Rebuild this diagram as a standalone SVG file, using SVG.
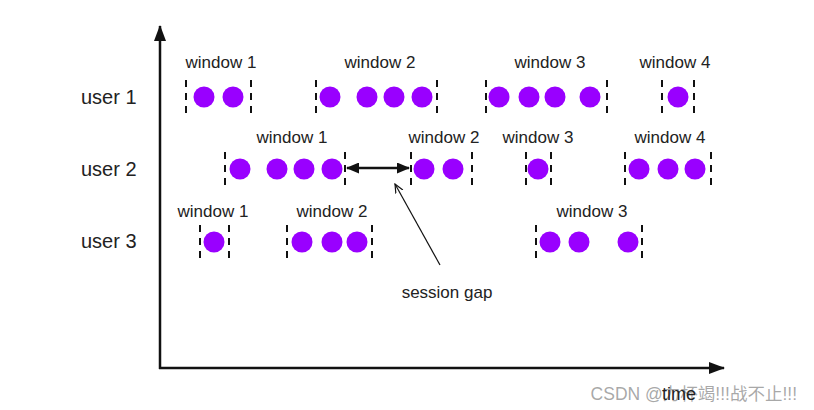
<svg xmlns="http://www.w3.org/2000/svg" width="814" height="410" viewBox="0 0 814 410">
<style>
.t{font-family:"Liberation Sans",Arial,sans-serif;fill:#222;}
.w{font-size:17px;text-anchor:middle;}
.u{font-size:20px;}
.d{stroke:#111;stroke-width:2;stroke-dasharray:7 6;}
.c{fill:#9900ff;}
.ax{stroke:#111;stroke-width:2.5;fill:none;}
</style>
<defs>
<marker id="ah" markerWidth="13" markerHeight="11" refX="12" refY="5.5" orient="auto-start-reverse" markerUnits="userSpaceOnUse" viewBox="0 0 13 11">
<path d="M0,0 L13,5.5 L0,11 Z" fill="#111"/>
</marker>
<marker id="ab" markerWidth="16" markerHeight="12" refX="15" refY="6" orient="auto-start-reverse" markerUnits="userSpaceOnUse" viewBox="0 0 16 12">
<path d="M0,0 L16,6 L0,12 Z" fill="#111"/>
</marker>
<marker id="ap" markerWidth="10" markerHeight="10" refX="9" refY="5" orient="auto" markerUnits="userSpaceOnUse" viewBox="0 0 10 10">
<path d="M0,1 L9,5 L0,9" fill="none" stroke="#111" stroke-width="1.2"/>
</marker>
</defs>
<rect width="814" height="410" fill="#fff"/>
<g id="axes">
<line class="ax" x1="160" y1="369" x2="160" y2="26" marker-end="url(#ab)"/>
<line class="ax" x1="159" y1="368" x2="724" y2="368" marker-end="url(#ab)"/>
</g>
<g id="labels">
<text class="t u" x="81" y="104">user 1</text>
<text class="t u" x="81" y="176">user 2</text>
<text class="t u" x="81" y="248">user 3</text>
</g>
<g id="u1w1"><text class="t w" x="221" y="68">window 1</text>
<line class="d" x1="186" y1="80" x2="186" y2="114"/><line class="d" x1="251" y1="80" x2="251" y2="114"/>
<circle class="c" cx="204" cy="97" r="10.5"/><circle class="c" cx="233" cy="97" r="10.5"/></g>
<g id="u1w2"><text class="t w" x="380" y="68">window 2</text>
<line class="d" x1="316" y1="80" x2="316" y2="114"/><line class="d" x1="437" y1="80" x2="437" y2="114"/>
<circle class="c" cx="330" cy="97" r="10.5"/><circle class="c" cx="367" cy="97" r="10.5"/><circle class="c" cx="394" cy="97" r="10.5"/><circle class="c" cx="422" cy="97" r="10.5"/></g>
<g id="u1w3"><text class="t w" x="550" y="68">window 3</text>
<line class="d" x1="486" y1="80" x2="486" y2="114"/><line class="d" x1="607" y1="80" x2="607" y2="114"/>
<circle class="c" cx="499" cy="97" r="10.5"/><circle class="c" cx="529" cy="97" r="10.5"/><circle class="c" cx="555" cy="97" r="10.5"/><circle class="c" cx="590" cy="97" r="10.5"/></g>
<g id="u1w4"><text class="t w" x="675" y="68">window 4</text>
<line class="d" x1="662" y1="80" x2="662" y2="114"/><line class="d" x1="694" y1="80" x2="694" y2="114"/>
<circle class="c" cx="678" cy="97" r="10.5"/></g>
<g id="u2w1"><text class="t w" x="292" y="143">window 1</text>
<line class="d" x1="225" y1="152" x2="225" y2="187"/><line class="d" x1="345" y1="152" x2="345" y2="187"/>
<circle class="c" cx="240" cy="169" r="10.5"/><circle class="c" cx="277" cy="169" r="10.5"/><circle class="c" cx="304" cy="169" r="10.5"/><circle class="c" cx="332" cy="169" r="10.5"/></g>
<g id="u2w2"><text class="t w" x="444" y="143">window 2</text>
<line class="d" x1="411" y1="152" x2="411" y2="187"/><line class="d" x1="472" y1="152" x2="472" y2="187"/>
<circle class="c" cx="424" cy="169" r="10.5"/><circle class="c" cx="453" cy="169" r="10.5"/></g>
<g id="u2w3"><text class="t w" x="538" y="143">window 3</text>
<line class="d" x1="526" y1="152" x2="526" y2="187"/><line class="d" x1="551" y1="152" x2="551" y2="187"/>
<circle class="c" cx="538" cy="169" r="10.5"/></g>
<g id="u2w4"><text class="t w" x="670" y="143">window 4</text>
<line class="d" x1="625" y1="152" x2="625" y2="187"/><line class="d" x1="711" y1="152" x2="711" y2="187"/>
<circle class="c" cx="639" cy="169" r="10.5"/><circle class="c" cx="668" cy="169" r="10.5"/><circle class="c" cx="695" cy="169" r="10.5"/></g>
<g id="u3w1"><text class="t w" x="213" y="217">window 1</text>
<line class="d" x1="200" y1="225" x2="200" y2="260"/><line class="d" x1="229" y1="225" x2="229" y2="260"/>
<circle class="c" cx="214" cy="242" r="10.5"/></g>
<g id="u3w2"><text class="t w" x="332" y="217">window 2</text>
<line class="d" x1="287" y1="225" x2="287" y2="260"/><line class="d" x1="372" y1="225" x2="372" y2="260"/>
<circle class="c" cx="302" cy="242" r="10.5"/><circle class="c" cx="332" cy="242" r="10.5"/><circle class="c" cx="357" cy="242" r="10.5"/></g>
<g id="u3w3"><text class="t w" x="592" y="217">window 3</text>
<line class="d" x1="536" y1="225" x2="536" y2="260"/><line class="d" x1="642" y1="225" x2="642" y2="260"/>
<circle class="c" cx="550" cy="242" r="10.5"/><circle class="c" cx="579" cy="242" r="10.5"/><circle class="c" cx="628" cy="242" r="10.5"/></g>
<g id="sessiongap"><text class="t" x="447" y="298" font-size="17" text-anchor="middle">session gap</text></g>
<g id="connectors">
<line x1="347" y1="168" x2="409" y2="168" stroke="#111" stroke-width="2.5" marker-start="url(#ah)" marker-end="url(#ah)"/>
<line x1="440" y1="265" x2="395" y2="184" stroke="#111" stroke-width="1.2" marker-end="url(#ap)"/>
</g>
<text x="797" y="400" text-anchor="end" font-family="'Liberation Sans','Noto Sans CJK SC',sans-serif" font-size="17.5" fill="#999" fill-opacity="0.85">CSDN @力杯竭!!!战不止!!!</text>
<text class="t" x="662" y="400" font-size="18">time</text>
</svg>
